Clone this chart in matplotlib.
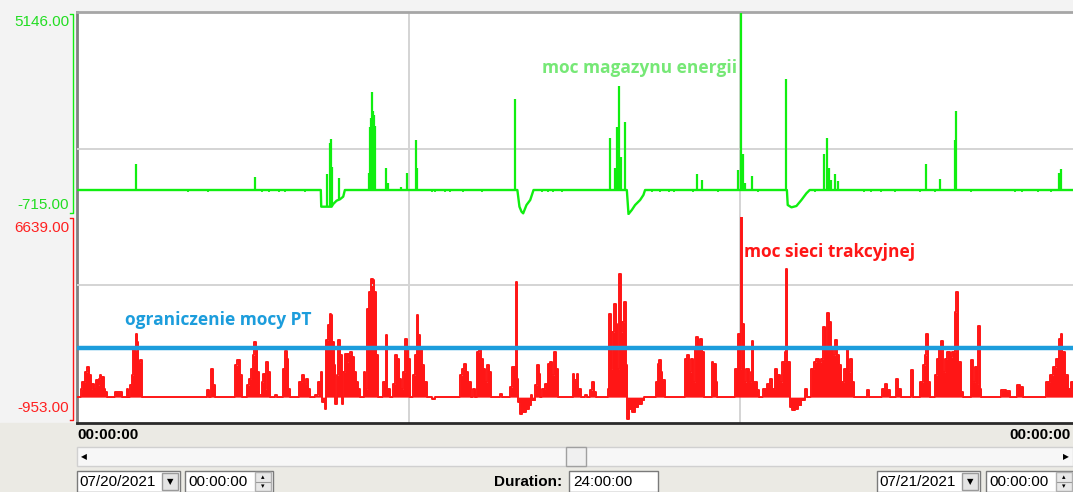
"""Energy storage power vs traction network power, 24 h record (07/20/2021)."""

import matplotlib

matplotlib.use("Agg")
import matplotlib.pyplot as plt
from matplotlib.patches import Rectangle

W, H = 1073, 492

# ---------------------------------------------------------------------------
# data  (time in hours from 00:00, power in kW)
# ---------------------------------------------------------------------------
GREEN_RANGE = (-715.0, 5146.0)
RED_RANGE = (-953.0, 6639.0)
T_END = 24.02
GRID_HOURS = [8, 16]
GREEN_GRID_KW = 1200
RED_GRID_KW = 4150
PT_LIMIT_KW = 1800

# storage power: resting level with the four discharge dips
GREEN_LEVEL_H = [0.0, 5.88, 5.89, 6.14, 6.18, 6.26, 6.34, 6.42, 6.46,
                 10.62, 10.67, 10.72, 10.76, 10.84, 10.93, 11.01,
                 13.26, 13.30, 13.38, 13.46, 13.58, 13.66, 13.70,
                 17.12, 17.14, 17.23, 17.35, 17.47, 17.59, 17.67, 24.02]
GREEN_LEVEL_KW = [0, 0, -485, -485, -407, -310, -271, -194, 0,
                  0, -485, -630, -678, -436, -291, 0,
                  0, -700, -581, -436, -291, -145, 0,
                  0, -436, -504, -465, -291, -97, 0, 0]

# storage power: charging spikes
GREEN_SPIKE_H = [1.42, 4.29, 6.02, 6.09, 6.13, 6.16, 6.33, 7.04, 7.07, 7.09,
                 7.11, 7.13, 7.16, 7.18, 7.45, 7.49, 7.81, 7.95, 8.18, 8.21,
                 10.56, 12.85, 12.98, 13.03, 13.07, 13.11, 13.22, 14.96, 15.07,
                 15.93, 16.02, 16.05, 16.12, 16.28, 17.11, 18.02, 18.09, 18.13,
                 18.19, 18.27, 18.36, 20.47, 20.82, 21.17, 21.21, 23.68, 23.74]
GREEN_SPIKE_KW = [750, 390, 456, 1357, 1483, 678, 358, 485, 1841, 2100,
                  2859, 2300, 2180, 1850, 630, 194, 97, 485, 1453, 630,
                  2636, 1502, 630, 1841, 3023, 969, 1986, 455, 291,
                  581, 5146, 1047, 194, 417, 3217, 1037, 1521, 630,
                  291, 465, 271, 746, 310, 1453, 2297, 504, 601]
GREEN_SPIKE_BASE_KW = [0, 0, -485, -485, -485, -440, -270, 0, 0, 0,
                       0, 0, 0, 0, 0, 0, 0, 0, 0, 0,
                       0, 0, 0, 0, 0, 0, 0, 0, 0,
                       0, 0, 0, 0, 0, 0, 0, 0, 0,
                       0, 0, 0, 0, 0, 0, 0, 0, 0]

# small dents below the storage resting level
GREEN_DENT_H = [2.68, 3.17, 4.46, 4.62, 4.86, 5.02, 5.50, 8.55, 8.63, 8.88,
                9.00, 9.32, 9.76, 11.21, 11.35, 11.48, 11.70, 13.86, 14.05,
                14.28, 14.40, 14.85, 15.47, 16.43, 17.79, 18.99, 19.16, 19.40,
                19.72, 20.32, 20.69, 21.57, 22.62, 22.80, 23.18, 23.50]
GREEN_DENT_KW = -70

# traction network power (step samples)
RED_H = [0.0, 0.10, 0.13, 0.19, 0.25, 0.29, 0.33, 0.37, 0.41, 0.45, 0.50, 0.53,
         0.56, 0.59, 0.64, 0.68, 0.72,
         0.92, 1.08,
         1.20, 1.24, 1.28, 1.32, 1.35, 1.39, 1.42, 1.45, 1.48, 1.52, 1.56,
         3.13, 3.18, 3.23, 3.27, 3.33,
         3.81, 3.87, 3.92, 3.97, 4.09, 4.15, 4.20, 4.24, 4.28, 4.31, 4.35, 4.39,
         4.45, 4.49, 4.53, 4.57, 4.61, 4.66,
         4.77, 4.82, 4.96, 5.02, 5.06, 5.10, 5.14,
         5.35, 5.42, 5.48, 5.52, 5.58, 5.62,
         5.74, 5.82, 5.88, 5.92, 5.97, 6.00, 6.05, 6.09, 6.12, 6.15, 6.19, 6.22,
         6.26, 6.30, 6.34, 6.38, 6.42, 6.46, 6.50, 6.54, 6.59, 6.63, 6.67, 6.72,
         6.77, 6.82,
         6.91, 6.95, 7.00, 7.04, 7.08, 7.13, 7.17, 7.21, 7.25,
         7.39, 7.44, 7.48, 7.55, 7.63, 7.68, 7.72, 7.77, 7.81, 7.87, 7.91, 7.96,
         7.99, 8.03, 8.11, 8.15, 8.19, 8.23, 8.27, 8.31, 8.38, 8.43,
         8.55, 8.63,
         9.24, 9.29, 9.34, 9.39, 9.44, 9.49, 9.56, 9.60, 9.64, 9.70, 9.74, 9.79,
         9.84, 9.89, 9.94, 9.98,
         10.20, 10.26, 10.44, 10.50, 10.55, 10.59, 10.61, 10.64, 10.68, 10.74,
         10.82, 10.90, 10.95, 10.98, 11.05, 11.09, 11.13, 11.17, 11.22, 11.29,
         11.35, 11.40, 11.45, 11.50, 11.54, 11.59,
         11.95, 11.99, 12.05, 12.09, 12.15, 12.25, 12.30, 12.37, 12.43, 12.48,
         12.52,
         12.80, 12.83, 12.87, 12.91, 12.96, 13.00, 13.03, 13.07, 13.11, 13.15,
         13.19, 13.23, 13.27, 13.31, 13.38, 13.46, 13.54, 13.62, 13.68,
         13.96, 14.00, 14.04, 14.08, 14.12, 14.17,
         14.66, 14.71, 14.76, 14.81, 14.86, 14.90, 14.94, 14.98, 15.03, 15.07,
         15.11,
         15.31, 15.35, 15.40, 15.44,
         15.87, 15.93, 15.98, 16.02, 16.03, 16.06, 16.09, 16.14, 16.20, 16.25,
         16.28, 16.31, 16.39, 16.44,
         16.55, 16.63, 16.71, 16.77, 16.83, 16.89, 16.95, 17.01, 17.07, 17.11,
         17.13, 17.19, 17.25, 17.31, 17.39, 17.47, 17.55, 17.61,
         17.71, 17.78, 17.83, 17.89, 17.95, 18.00, 18.05, 18.09, 18.13, 18.18,
         18.22, 18.28, 18.32, 18.38, 18.43, 18.50, 18.56, 18.60, 18.65, 18.70,
         18.74,
         19.04, 19.09, 19.42, 19.48, 19.54, 19.60, 19.75, 19.80, 19.86,
         20.12, 20.16, 20.32, 20.41, 20.45, 20.48, 20.52, 20.57,
         20.69, 20.74, 20.79, 20.83, 20.88, 20.93, 20.99, 21.06, 21.11, 21.17,
         21.21, 21.25, 21.31, 21.37,
         21.55, 21.60, 21.65, 21.70, 21.73, 21.77, 21.81,
         22.29, 22.41, 22.49, 22.67, 22.74, 22.82,
         23.38, 23.46, 23.54, 23.62, 23.68, 23.72, 23.76, 23.82, 23.90, 23.97,
         24.02]
RED_KW = [0, 308, 554, 923, 1107, 800, 308, 492, 308, 615, 431, 677,
          800, 738, 308, 185, 0,
          185, 0,
          308, 0, 455, 800, 1784, 1722, 2337, 2030, 1292, 1353, 0,
          246, 0, 1021, 431, 0,
          1169, 1378, 800, 0, 431, 677, 1046, 1538, 2030, 1845, 923, 62,
          554, 861, 308, 1292, 923, 0,
          86, 0, 1046, 1685, 1415, 308, 0,
          554, 800, 492, 652, 308, 0,
          62, 554, 923, -185, -430, 2091, 2645, 3075, 3014, 2030, 1169, -246,
          800, 2091, 1538, -246, 923, 1599, 1292, 1599, 1660, 1476, 923, 554,
          308, 0,
          923, 308, 3260, 3875, 4367, 4305, 3875, 1538, 0,
          554, 2300, 308, 0, 492, 1538, 1415, 677, 308, 923, 2153, 1784,
          1415, 0, 800, 1538, 3014, 2276, 1784, 1169, 554, 0,
          -86, 0,
          800, 1046, 1230, 923, 554, 0, 308, 0, 1661, 1722, 1415, 1046,
          554, 1169, 923, 0,
          123, 0, 369, 1107, 1107, 4244, 677, -185, -615, -554,
          -430, -308, 62, -123, 431, 1169, 861, 0, 308, 492,
          1230, 1292, 800, 1661, 1046, 0,
          861, 615, 861, 308, 0, 62, 0, 246, 554, 185,
          0,
          308, 3075, 1046, 2399, 3444, 2706, 1046, 4551, 2399, 2768,
          3506, 1169, -800, -430, -554, -369, -246, -123, 0,
          554, 1230, 1353, 923, 615, 0,
          1415, 1562, 923, 1415, 554, 1845, 2214, 1784, 2153, 1661,
          0,
          1292, 1230, 554, 0,
          1046, 2337, 1046, 6639, 2706, 2706, 554, 1046, 554, 923,
          2066, 554, 246, 0,
          308, 492, 677, 308, 1046, 800, 554, 1292, 1661, 4736,
          1292, -369, -492, -430, -308, -123, 308, 0,
          1046, 1292, 1415, 1292, 1415, 2583, 1784, 3112, 2768, 1784,
          1538, 2091, 1538, 1169, 554, 1046, 1722, 923, 1415, 554,
          0,
          246, 0, 308, 492, 246, 0, 677, 308, 0,
          984, 0, 554, 1169, 1538, 2337, 554, 0,
          800, 1415, 1784, 2054, 923, 1415, 1661, 1476, 1661, 3137,
          3875, 1292, 185, 0,
          1353, 554, 1107, 492, 2608, 308, 0,
          246, 209, 0, 431, 369, 0,
          554, 800, 1107, 1415, 2153, 2337, 1661, 800, 308, 554,
          431]

# ---------------------------------------------------------------------------
# style
# ---------------------------------------------------------------------------
GREEN = "#10ee10"
GREEN_TXT = "#76e876"
RED = "#ff1616"
BLUE = "#1c9ddc"
GRID = "#d4d4d4"
UI_FONT = ["Liberation Sans", "DejaVu Sans"]
LABEL_FONT = ["Open Sans", "DejaVu Sans"]


def px_box(x0, y0, x1, y1):
    """Pixel rectangle (top-left origin) -> figure fraction box."""
    return [x0 / W, 1 - y1 / H, (x1 - x0) / W, (y1 - y0) / H]


def pixel_axes(fig, z):
    ax = fig.add_axes([0, 0, 1, 1], zorder=z)
    ax.set_xlim(0, W)
    ax.set_ylim(H, 0)
    ax.axis("off")
    ax.patch.set_alpha(0)
    return ax


def data_axes(fig, box, ylim, z=2):
    ax = fig.add_axes(box, zorder=z)
    ax.set_xlim(0, T_END)
    ax.set_ylim(*ylim)
    ax.axis("off")
    ax.patch.set_alpha(0)
    return ax


def draw_box(ax, x0, y0, x1, y1, face="white", edge="#7a7a7a", lw=1.0):
    ax.add_patch(Rectangle((x0, y0), x1 - x0, y1 - y0, facecolor=face,
                           edgecolor=edge, lw=lw))


def main():
    assert len(GREEN_LEVEL_H) == len(GREEN_LEVEL_KW)
    assert len(GREEN_SPIKE_H) == len(GREEN_SPIKE_KW) == len(GREEN_SPIKE_BASE_KW)
    assert len(RED_H) == len(RED_KW)

    fig = plt.figure(figsize=(W / 100, H / 100), dpi=100)

    # window background
    back = pixel_axes(fig, 0)
    back.add_patch(Rectangle((0, 0), W, H, color="#f3f3f3"))
    back.add_patch(Rectangle((0, 423), W, H - 423, color="#ebeae4"))

    # plot frame + vertical grid
    frame = fig.add_axes(px_box(77, 12, W, 423), zorder=1)
    frame.set_facecolor("white")
    frame.set_xlim(0, T_END)
    frame.set_xticks([])
    frame.set_yticks([])
    frame.spines["right"].set_visible(False)
    frame.spines["top"].set_color("#a6a6a6")
    frame.spines["left"].set_color("#808080")
    frame.spines["bottom"].set_color("#2a2a2a")
    for side in ("top", "left", "bottom"):
        frame.spines[side].set_linewidth(2)
    for h in GRID_HOURS:
        frame.axvline(h, color=GRID, lw=1.4)

    # storage panel
    ax_g = data_axes(fig, px_box(77, 13, W, 214.6), GREEN_RANGE)
    ax_g.axhline(GREEN_GRID_KW, color=GRID, lw=1.4)
    ax_g.plot(GREEN_LEVEL_H, GREEN_LEVEL_KW, color=GREEN, lw=1.7)
    ax_g.vlines(GREEN_SPIKE_H, GREEN_SPIKE_BASE_KW, GREEN_SPIKE_KW,
                color=GREEN, lw=1.6)
    ax_g.vlines(GREEN_DENT_H, 0, GREEN_DENT_KW, color=GREEN, lw=1.3)

    # traction network panel
    ax_r = data_axes(fig, px_box(77, 217, W, 423), RED_RANGE)
    ax_r.axhline(RED_GRID_KW, color=GRID, lw=1.4)
    ax_r.fill_between(RED_H, RED_KW, 0, step="post", color=RED, lw=0)
    ax_r.step(RED_H, RED_KW, where="post", color=RED, lw=1.4)
    ax_r.axhline(PT_LIMIT_KW, color=BLUE, lw=3.2)

    ui = pixel_axes(fig, 5)

    # series captions
    cap = dict(family=LABEL_FONT, weight="bold", fontsize=12.5, va="center")
    ui.text(542, 68, "moc magazynu energii", color=GREEN_TXT, **cap)
    ui.text(744, 252, "moc sieci trakcyjnej", color=RED, **cap)
    ui.text(125, 320, "ograniczenie mocy PT", color=BLUE, **cap)

    # value range labels + brackets on the left
    rng = dict(family=UI_FONT, fontsize=11, ha="right", va="center")
    ui.text(69, 22, f"{GREEN_RANGE[1]:.2f}", color="#22dd22", **rng)
    ui.text(69, 205, f"{GREEN_RANGE[0]:.2f}", color="#22dd22", **rng)
    ui.text(69, 228, f"{RED_RANGE[1]:.2f}", color="#ff2020", **rng)
    ui.text(69, 408, f"{RED_RANGE[0]:.2f}", color="#ff2020", **rng)
    ui.plot([70, 72.5, 72.5, 70], [14, 14, 213, 213], color=GREEN, lw=1)
    ui.plot([70, 72.5, 72.5, 70], [218, 218, 420, 420], color=RED, lw=1)

    # time axis
    bold = dict(family=UI_FONT, fontsize=11, weight="bold", va="center")
    ui.text(77, 435, "00:00:00", ha="left", **bold)
    ui.text(1071, 435, "00:00:00", ha="right", **bold)

    # scrollbar
    draw_box(ui, 77, 447, W, 466, face="#f7f7f7", edge="#d0d0d0")
    draw_box(ui, 566, 447, 586, 466, face="#f0f0f0", edge="#a0a0a0")
    ui.text(84, 456.5, "◀", fontsize=5.5, ha="center", va="center")
    ui.text(1066, 456.5, "▶", fontsize=5.5, ha="center", va="center")

    # date / time / duration controls
    txt = dict(family=UI_FONT, fontsize=11, va="center", ha="left")
    for x0, date in ((77, "07/20/2021"), (877, "07/21/2021")):
        draw_box(ui, x0, 471, x0 + 103, 492)
        draw_box(ui, x0 + 85, 473, x0 + 101, 490, face="#e4e4e4", edge="#9a9a9a")
        ui.text(x0 + 2, 482, date, **txt)
        ui.text(x0 + 93, 482, "▼", fontsize=6, ha="center", va="center")
    for x0 in (185, 986):
        draw_box(ui, x0, 471, x0 + 88, 492)
        draw_box(ui, x0 + 70, 472, x0 + 86, 491, face="#e8e8e8", edge="#b0b0b0")
        ui.plot([x0 + 71, x0 + 85], [481.5, 481.5], color="#9a9a9a", lw=0.8)
        ui.text(x0 + 78, 477, "▴", fontsize=5, ha="center", va="center")
        ui.text(x0 + 78, 486, "▾", fontsize=5, ha="center", va="center")
        ui.text(x0 + 3, 482, "00:00:00", **txt)
    ui.text(494, 482, "Duration:", family=UI_FONT, fontsize=11,
            weight="bold", va="center", ha="left")
    draw_box(ui, 569, 471, 658, 492)
    ui.text(573, 482, "24:00:00", **txt)

    fig.savefig("out.png", dpi=100)


if __name__ == "__main__":
    main()
